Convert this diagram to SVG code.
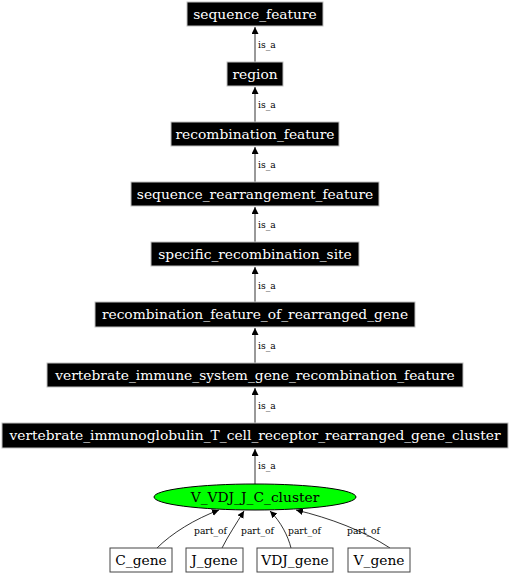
<svg xmlns="http://www.w3.org/2000/svg" width="510" height="576" viewBox="0 0 510 576">
<defs>
<marker id="ah" markerWidth="8" markerHeight="8" refX="7" refY="3.5" orient="auto" markerUnits="userSpaceOnUse">
<path d="M0,0 L7,3.5 L0,7 Z" fill="#000"/>
</marker>
<style>
.box rect{fill:#000;stroke:#bfbfbf;stroke-width:1}
.box text{fill:#fff;font-family:"DejaVu Serif",serif;font-size:13.8px;text-anchor:middle}
.wbox rect{fill:#fff;stroke:#444;stroke-width:1}
.wbox text{fill:#000;font-family:"DejaVu Serif",serif;font-size:13.8px;text-anchor:middle}
.e path{fill:none;stroke:#000;stroke-width:0.8;marker-end:url(#ah)}
.e text{font-family:"DejaVu Serif",serif;font-size:9.2px;fill:#000}
</style>
</defs>
<g class="e" id="connectors">
<path d="M255,62 L255,27"/><text x="258" y="48">is_a</text>
<path d="M255,122 L255,87"/><text x="258" y="108">is_a</text>
<path d="M255,182 L255,147"/><text x="258" y="168">is_a</text>
<path d="M255,242 L255,207"/><text x="258" y="228">is_a</text>
<path d="M255,302 L255,267"/><text x="258" y="289">is_a</text>
<path d="M255,363 L255,328"/><text x="258" y="349">is_a</text>
<path d="M255,423 L255,388"/><text x="258" y="409">is_a</text>
<path d="M255,484 L255,449"/><text x="258" y="469">is_a</text>
<path d="M157,548 C172,533 195,519 219,510"/><text x="194" y="534">part_of</text>
<path d="M222,548 C228,536 236,524 244,511"/><text x="241" y="534">part_of</text>
<path d="M291,548 C288,536 281,522 270,511"/><text x="288" y="534">part_of</text>
<path d="M390,548 C364,531 330,518 296,510"/><text x="347" y="534">part_of</text>
</g>
<g class="box" id="n1"><rect x="187" y="2" width="136" height="24"/><text x="255" y="18.8">sequence_feature</text></g>
<g class="box" id="n2"><rect x="227" y="62" width="56" height="24"/><text x="255" y="78.8">region</text></g>
<g class="box" id="n3"><rect x="171" y="122" width="168" height="24"/><text x="255" y="138.8">recombination_feature</text></g>
<g class="box" id="n4"><rect x="131" y="182" width="248" height="24"/><text x="255" y="198.8">sequence_rearrangement_feature</text></g>
<g class="box" id="n5"><rect x="151" y="242" width="208" height="24"/><text x="255" y="258.8">specific_recombination_site</text></g>
<g class="box" id="n6"><rect x="95" y="302" width="320" height="25"/><text x="255" y="319.3">recombination_feature_of_rearranged_gene</text></g>
<g class="box" id="n7"><rect x="47" y="363" width="416" height="24"/><text x="255" y="379.8">vertebrate_immune_system_gene_recombination_feature</text></g>
<g class="box" id="n8"><rect x="2" y="423" width="506" height="25"/><text x="255" y="440.3">vertebrate_immunoglobulin_T_cell_receptor_rearranged_gene_cluster</text></g>
<g class="wbox" id="n9"><ellipse cx="255" cy="497" rx="101" ry="13" fill="#00ff00" stroke="#000" stroke-width="1"/><text x="255" y="501.8">V_VDJ_J_C_cluster</text></g>
<g class="wbox" id="n10"><rect x="110" y="548" width="62" height="24"/><text x="141" y="564.8">C_gene</text></g>
<g class="wbox" id="n11"><rect x="186" y="548" width="57" height="24"/><text x="214.5" y="564.8">J_gene</text></g>
<g class="wbox" id="n12"><rect x="257" y="548" width="76" height="24"/><text x="295" y="564.8">VDJ_gene</text></g>
<g class="wbox" id="n13"><rect x="348" y="548" width="62" height="24"/><text x="379" y="564.8">V_gene</text></g>
</svg>
